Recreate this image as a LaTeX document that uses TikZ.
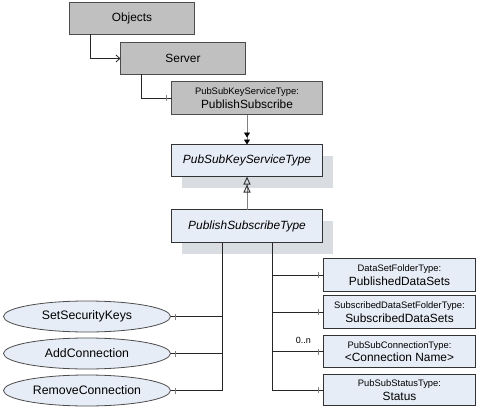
\documentclass[tikz,border=0pt]{standalone}
\usepackage{fontspec}
\setmainfont{Liberation Sans}
\usetikzlibrary{arrows.meta,shapes.geometric,positioning,shadows,decorations.markings}

\definecolor{objgray}{HTML}{C0C0C0}
\definecolor{typeblue}{HTML}{E7EDF7}
\definecolor{shadowgray}{HTML}{D9DCE1}
\definecolor{linegray}{HTML}{808080}

\newcommand{\tname}[1]{{\fontsize{9.4}{11}\selectfont #1}}

\begin{document}
\begin{tikzpicture}[
  x=1pt, y=1pt,
  box/.style={rectangle, minimum width=151pt, minimum height=33pt, outer sep=0pt,
              inner sep=1pt, align=center, font=\fontsize{11.9}{13.5}\selectfont},
  obj/.style={box, minimum width=125pt, minimum height=32pt,
              fill=objgray, draw=black!70, line width=0.9pt},
  inst/.style={box, fill=objgray, draw=black!70, line width=0.9pt},
  otype/.style={box, minimum height=32pt, fill=typeblue, draw=black!80, line width=0.9pt,
                font=\fontsize{11.9}{13.5}\selectfont\itshape,
                general shadow={fill=shadowgray, shadow xshift=10pt, shadow yshift=-11pt}},
  child/.style={box, minimum width=152pt, fill=typeblue, draw=black!80, line width=0.9pt},
  method/.style={ellipse, minimum width=167pt, minimum height=31pt, inner sep=0pt,
                 outer sep=0pt, fill=typeblue, draw=black!70, line width=0.8pt,
                 font=\fontsize{12.3}{14}\selectfont},
  organizes/.style={draw=black!85, line width=0.8pt,
                    -{Straight Barb[length=4pt, width=7pt]}},
  hastype/.style={draw=linegray, line width=0.9pt,
                  -{Triangle[length=5pt, width=6pt, sep=2pt, color=black]Triangle[length=5pt, width=6pt, color=black]}},
  subtype/.style={draw=linegray, line width=0.9pt,
                  -{Triangle[open, length=8pt, width=7pt, sep=0pt, color=black!80]Triangle[open, length=8pt, width=7pt, color=black!80]}},
  comp/.style={draw=black!85, line width=0.8pt, postaction={decorate},
               decoration={markings, mark=at position -5pt with
                 {\draw[linegray, line width=0.9pt] (0,-3pt) -- (0,3pt);}}},
  mult/.style={font=\fontsize{9}{10}\selectfont},
  node distance=6pt
]
\useasboundingbox (0,0) rectangle (490,-420);

%% Instances: Objects -> Server -> PublishSubscribe
\node[obj] (objects) at (132,-18.5) {Objects};
\node[obj, below right=8pt and 51pt of objects.south west] (server) {Server};
\node[inst, below right=7pt and 51pt of server.south west] (ps-inst)
  {\tname{PubSubKeyServiceType:}\\PublishSubscribe};

\draw[organizes] ([xshift=-42pt]objects.south) |- (server.west);
\draw[comp] ([xshift=-42pt]server.south) |- (ps-inst.west);

%% Type definitions
\node[otype, below=30pt of ps-inst] (psks-type) {PubSubKeyServiceType};
\node[otype, minimum height=33pt, below=33pt of psks-type] (ps-type) {PublishSubscribeType};

\draw[hastype] (ps-inst) -- (psks-type);
\draw[subtype] (ps-type) -- (psks-type);

%% Methods (left)
\node[method, anchor=east] (m-keys) at ([xshift=-1pt, yshift=-74pt]ps-type.south west)
  {SetSecurityKeys};
\node[method, below=of m-keys] (m-add) {AddConnection};
\node[method, below=of m-add] (m-remove) {RemoveConnection};

\draw[comp] ([xshift=-25pt]ps-type.south) |- (m-keys.east);
\draw[comp] ([xshift=-25pt]ps-type.south) |- (m-add.east);
\draw[comp] ([xshift=-25pt]ps-type.south) |- (m-remove.east);

%% Components (right)
\node[child, below right=16pt and 1pt of ps-type.south east] (c-pub)
  {\tname{DataSetFolderType:}\\PublishedDataSets};
\node[child, below=4pt of c-pub] (c-sub)
  {\tname{SubscribedDataSetFolderType:}\\SubscribedDataSets};
\node[child, minimum height=32pt, below=7pt of c-sub] (c-conn)
  {\tname{PubSubConnectionType:}\\<Connection Name>};
\node[child, minimum height=31pt, below=7pt of c-conn] (c-status)
  {\tname{PubSubStatusType:}\\Status};

\draw[comp] ([xshift=25pt]ps-type.south) |- (c-pub.west);
\draw[comp] ([xshift=25pt]ps-type.south) |- (c-sub.west);
\draw[comp] ([xshift=25pt]ps-type.south) |- (c-conn.west);
\draw[comp] ([xshift=25pt]ps-type.south) |- (c-status.west);

\node[mult, above left=4pt and 9pt of c-conn.west] (conn-mult) {0..n};

\end{tikzpicture}
\end{document}
